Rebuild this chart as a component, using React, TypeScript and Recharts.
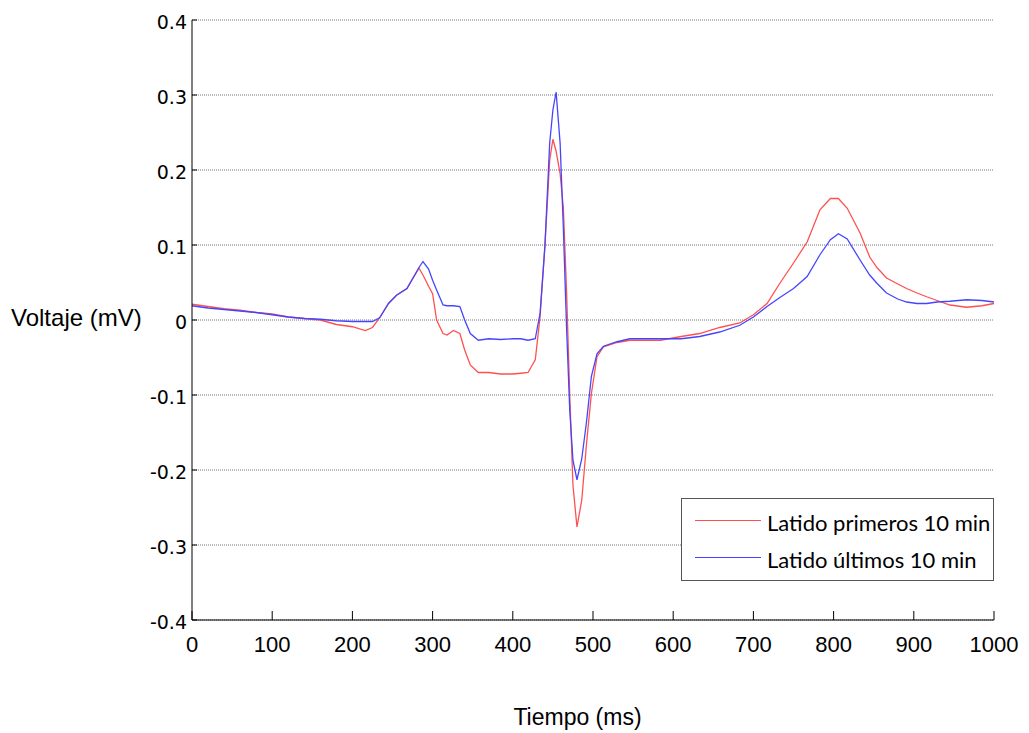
import { LineChart, Line, XAxis, YAxis, CartesianGrid } from 'recharts';

// Tiempo (ms) de cada muestra
const tiempo = [
  0, 20, 40, 60, 80, 100, 120, 140, 160, 180, 200, 216, 225, 234, 245, 255, 268, 283, 288, 295,
  300, 305, 313, 318, 326, 334, 340, 347, 357, 370, 385, 400, 410, 419, 428, 434, 440, 446, 450, 454,
  459, 463, 467, 471, 475, 480, 486, 492, 498, 505, 513, 530, 546, 584, 610, 633, 658, 683, 700, 717,
  733, 750, 767, 783, 796, 806, 817, 833, 845, 854, 866, 880, 891, 904, 916, 929, 945, 966, 985, 1000,
];

// Latido primeros 10 min (mV)
const primeros = [
  0.021, 0.018, 0.015, 0.013, 0.010, 0.008, 0.004, 0.002, 0.000, -0.006, -0.009, -0.014, -0.010, 0.003, 0.022, 0.033, 0.042, 0.069, 0.060, 0.045,
  0.035, 0.000, -0.018, -0.020, -0.014, -0.018, -0.040, -0.060, -0.070, -0.070, -0.072, -0.072, -0.071, -0.070, -0.053, 0.004, 0.098, 0.213, 0.241, 0.225,
  0.195, 0.150, 0.040, -0.100, -0.220, -0.276, -0.240, -0.164, -0.098, -0.049, -0.036, -0.030, -0.027, -0.027, -0.022, -0.018, -0.010, -0.004, 0.007, 0.022,
  0.049, 0.076, 0.104, 0.147, 0.162, 0.162, 0.149, 0.116, 0.084, 0.070, 0.056, 0.048, 0.042, 0.036, 0.031, 0.026, 0.020, 0.017, 0.019, 0.022,
];

// Latido últimos 10 min (mV)
const ultimos = [
  0.019, 0.016, 0.014, 0.012, 0.010, 0.007, 0.004, 0.002, 0.001, -0.001, -0.002, -0.002, -0.002, 0.003, 0.022, 0.033, 0.042, 0.070, 0.078, 0.068,
  0.053, 0.040, 0.020, 0.019, 0.019, 0.018, 0.000, -0.018, -0.027, -0.025, -0.026, -0.025, -0.025, -0.027, -0.025, 0.009, 0.098, 0.236, 0.280, 0.304,
  0.236, 0.124, -0.009, -0.120, -0.187, -0.213, -0.185, -0.135, -0.075, -0.045, -0.035, -0.029, -0.025, -0.025, -0.025, -0.022, -0.016, -0.007, 0.004, 0.018,
  0.030, 0.042, 0.058, 0.087, 0.107, 0.115, 0.108, 0.080, 0.060, 0.049, 0.036, 0.028, 0.024, 0.022, 0.022, 0.024, 0.025, 0.027, 0.026, 0.024,
];

const xTicks = [0, 100, 200, 300, 400, 500, 600, 700, 800, 900, 1000];
const yTicks = [-0.4, -0.3, -0.2, -0.1, 0, 0.1, 0.2, 0.3, 0.4];

const seriesNames = ['Latido primeros 10 min', 'Latido últimos 10 min'];
const seriesColors = ['#ff5050', '#4545ff'];

const data = tiempo.map((t, i) => ({ t, primeros: primeros[i], ultimos: ultimos[i] }));

const XTick = (props: any) => {
  const { x, y, payload } = props;
  return (
    <g>
      <line x1={x} y1={y} x2={x} y2={y - 9} stroke="#000" strokeWidth={1} />
      <text x={x} y={y + 32} textAnchor="middle" fontSize={22} fontFamily="Liberation Sans, Arial, sans-serif" fill="#000">
        {payload.value}
      </text>
    </g>
  );
};

const YTick = (props: any) => {
  const { x, y, payload } = props;
  const v = payload.value;
  const label = v === 0 ? '0' : String(Math.round(v * 10) / 10);
  return (
    <g>
      <line x1={x} y1={y} x2={x + 5} y2={y} stroke="#000" strokeWidth={1} />
      <text x={x - 5} y={y + 9} textAnchor="end" fontSize={19} fontFamily="DejaVu Sans, sans-serif" fill="#000">
        {label}
      </text>
    </g>
  );
};

export default function App() {
  return (
    <div style={{ position: 'relative', width: 1013, height: 725, background: '#fff' }}>
      <LineChart width={1013} height={717} data={data} margin={{ top: 12, right: 27, bottom: 67, left: 124 }}>
        <CartesianGrid vertical={false} stroke="#777" strokeDasharray="1 1" />
        <XAxis
          dataKey="t"
          type="number"
          domain={[0, 1000]}
          ticks={xTicks}
          interval={0}
          tickLine={false}
          tickSize={0}
          tickMargin={0}
          tick={<XTick />}
          axisLine={{ stroke: '#000' }}
          height={38}
        />
        <YAxis
          type="number"
          domain={[-0.4, 0.4]}
          ticks={yTicks}
          interval={0}
          allowDataOverflow
          width={60}
          tickLine={false}
          tickSize={0}
          tickMargin={0}
          axisLine={{ stroke: '#000' }}
          tick={<YTick />}
        />
        <Line dataKey="primeros" name={seriesNames[0]} stroke={seriesColors[0]} strokeWidth={1.3} dot={false} isAnimationActive={false} />
        <Line dataKey="ultimos" name={seriesNames[1]} stroke={seriesColors[1]} strokeWidth={1.3} dot={false} isAnimationActive={false} />
      </LineChart>

      <div style={{ position: 'absolute', left: 673, top: 490, width: 313, height: 83, border: '1px solid #555', background: '#fff', boxSizing: 'border-box', fontFamily: 'Lato, sans-serif', fontSize: 22, color: '#000' }}>
        {seriesNames.map((n, i) => (
          <div key={n} style={{ position: 'absolute', left: 0, top: i * 37, height: 44, width: '100%' }}>
            <div style={{ position: 'absolute', left: 13, top: 21, width: 66, height: 0, borderTop: `1.5px solid ${seriesColors[i]}` }} />
            <div style={{ position: 'absolute', left: 85, top: 11, whiteSpace: 'nowrap', lineHeight: '26px' }}>{n}</div>
          </div>
        ))}
      </div>

      <div style={{ position: 'absolute', left: 3, top: 296, fontFamily: 'Liberation Sans, Arial, sans-serif', fontSize: 24, color: '#000' }}>
        Voltaje (mV)
      </div>
      <div style={{ position: 'absolute', left: 0, width: 1139, top: 696, textAlign: 'center', fontFamily: 'Liberation Sans, Arial, sans-serif', fontSize: 23, lineHeight: '26px', color: '#000' }}>
        Tiempo (ms)
      </div>
    </div>
  );
}
